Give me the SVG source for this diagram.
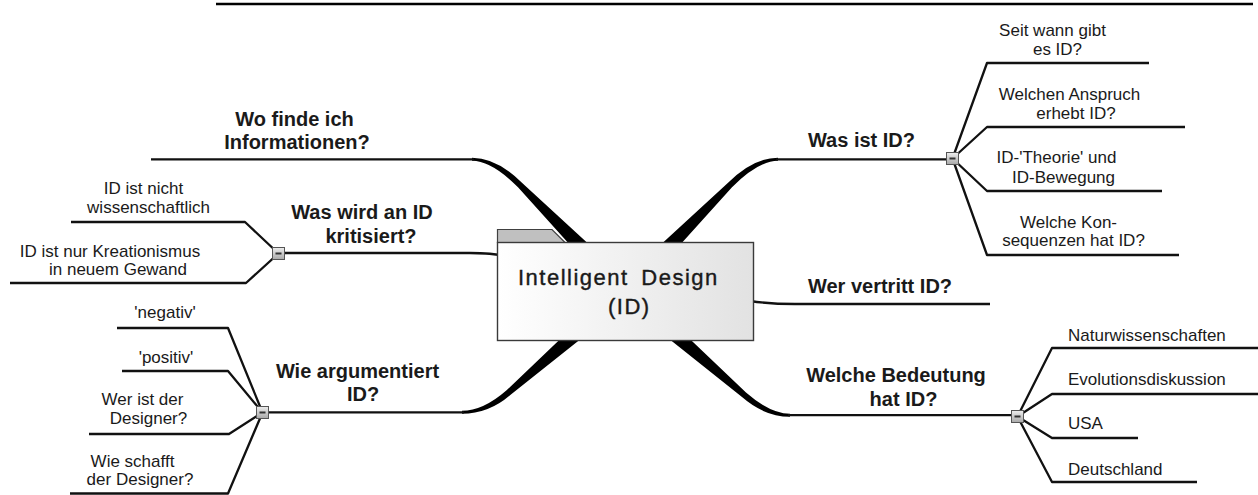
<svg xmlns="http://www.w3.org/2000/svg" width="1258" height="495" viewBox="0 0 1258 495">
<defs>
<linearGradient id="boxGrad" x1="0" y1="0" x2="1" y2="0">
<stop offset="0" stop-color="#ffffff"/><stop offset="1" stop-color="#e2e2e2"/>
</linearGradient>
<linearGradient id="btnGrad" x1="0" y1="0" x2="0" y2="1">
<stop offset="0" stop-color="#eeeeee"/><stop offset="1" stop-color="#a8a8a8"/>
</linearGradient>
<g id="collapse">
<rect x="-6" y="-6" width="12" height="12" fill="url(#btnGrad)" stroke="#555555" stroke-width="1"/>
<rect x="-3" y="-1" width="6" height="2" fill="#333333"/>
</g>
</defs>
<style>
.ln{fill:none;stroke:#111111;stroke-width:2.3;stroke-linejoin:round}
.band{fill:#000000}
.main{font-family:"Liberation Sans",Arial,sans-serif;font-weight:bold;font-size:20px;fill:#1a1a1a;text-anchor:middle}
.sub{font-family:"Liberation Sans",Arial,sans-serif;font-size:17px;fill:#1a1a1a;text-anchor:middle}
.subl{font-family:"Liberation Sans",Arial,sans-serif;font-size:17px;fill:#1a1a1a;text-anchor:start}
.center{font-family:"Liberation Sans",Arial,sans-serif;font-size:22px;fill:#1a1a1a;stroke:#1a1a1a;stroke-width:0.4;letter-spacing:1.5px;word-spacing:5px}
</style>
<rect width="1258" height="495" fill="#ffffff"/>
<line x1="216" y1="4" x2="1253" y2="4" stroke="#000000" stroke-width="2.6"/>

<g id="connectors">
<path class="band" d="M 632.1 284 L 522.2 183.1 Q 497.1 157.8 472 157.8 L 472 160.8 Q 491.7 160.8 518 187.3 L 617.9 298 Z"/>
<path class="band" d="M 617.9 284 L 727.8 183.1 Q 752.9 157.8 778 157.8 L 778 160.8 Q 758.3 160.8 732 187.3 L 632.1 298 Z"/>
<path class="band" d="M 618.4 283.5 L 506.3 390.5 Q 483 410.8 462 410.8 L 462 413.8 Q 488.9 413.8 510.3 395.1 L 631.6 298.5 Z"/>
<path class="band" d="M 631.6 283.5 L 746 392.5 Q 770.3 413.7 790 413.7 L 790 416.7 Q 764.5 416.7 742 397.1 L 618.4 298.5 Z"/>
<path class="ln" d="M 151 159.3 L 474 159.3"/>
<path class="ln" d="M 776 159.3 L 946.5 159.3"/>
<path class="ln" d="M 268.5 412.3 L 464 412.3"/>
<path class="ln" d="M 788 415.2 L 1011.5 415.2"/>
<path class="ln" d="M 505 256 Q 492 253 470 253 L 284.5 253"/>
<path class="ln" d="M 750 301 Q 770 304 795 304 L 990 304"/>
<path class="ln" d="M 278.5 253.5 L 245 222 L 71 222"/>
<path class="ln" d="M 278.5 253.5 L 246 283 L 10 283"/>
<path class="ln" d="M 262.5 412.5 L 228 328 L 117 328"/>
<path class="ln" d="M 262.5 412.5 L 228 371 L 122 371"/>
<path class="ln" d="M 262.5 412.5 L 229 434 L 89 434"/>
<path class="ln" d="M 262.5 412.5 L 228 493.5 L 70 493.5"/>
<path class="ln" d="M 952.5 158.5 L 987 63 L 1149 63"/>
<path class="ln" d="M 952.5 158.5 L 987 127 L 1185 127"/>
<path class="ln" d="M 952.5 158.5 L 987 191 L 1162 191"/>
<path class="ln" d="M 952.5 158.5 L 987 255 L 1179 255"/>
<path class="ln" d="M 1017.5 416.5 L 1052 348 L 1258 348"/>
<path class="ln" d="M 1017.5 416.5 L 1052 394 L 1258 394"/>
<path class="ln" d="M 1017.5 416.5 L 1052 438 L 1138 438"/>
<path class="ln" d="M 1017.5 416.5 L 1052 482 L 1197 482"/>
</g>

<g id="node-center">
<path d="M 497.5 242.5 L 497.5 229.5 L 552 229.5 L 565 242.5 Z" fill="#c0c0c0" stroke="#404040" stroke-width="1.2"/>
<rect x="497.5" y="242.5" width="256" height="98" fill="url(#boxGrad)" stroke="#3a3a3a" stroke-width="1.4"/>
<text class="center" x="518" y="285">Intelligent Design</text>
<text class="center" x="608" y="314">(ID)</text>
</g>

<g id="node-wo-finde">
<text class="main" x="294.5" y="126">Wo finde ich</text>
<text class="main" x="297" y="149">Informationen?</text>
</g>
<g id="node-was-wird">
<text class="main" x="362" y="219">Was wird an ID</text>
<text class="main" x="371" y="243">kritisiert?</text>
<use href="#collapse" transform="translate(278.5,253.5)"/>
</g>
<g id="node-nicht-wiss">
<text class="sub" x="143.5" y="194">ID ist nicht</text>
<text class="sub" x="148.5" y="213">wissenschaftlich</text>
</g>
<g id="node-kreationismus">
<text class="sub" x="110" y="257">ID ist nur Kreationismus</text>
<text class="sub" x="118" y="275">in neuem Gewand</text>
</g>
<g id="node-wie-arg">
<text class="main" x="357.5" y="378">Wie argumentiert</text>
<text class="main" x="363" y="401">ID?</text>
<use href="#collapse" transform="translate(262.5,412.5)"/>
</g>
<g id="node-negativ">
<text class="sub" x="165" y="318">'negativ'</text>
</g>
<g id="node-positiv">
<text class="sub" x="166" y="363">'positiv'</text>
</g>
<g id="node-wer-designer">
<text class="sub" x="142.5" y="405">Wer ist der</text>
<text class="sub" x="148.5" y="424">Designer?</text>
</g>
<g id="node-wie-schafft">
<text class="sub" x="132.5" y="467">Wie schafft</text>
<text class="sub" x="140" y="485">der Designer?</text>
</g>
<g id="node-was-ist">
<text class="main" x="861.5" y="147">Was ist ID?</text>
<use href="#collapse" transform="translate(952.5,158.5)"/>
</g>
<g id="node-seit-wann">
<text class="sub" x="1052.5" y="36">Seit wann gibt</text>
<text class="sub" x="1057.5" y="55">es ID?</text>
</g>
<g id="node-anspruch">
<text class="sub" x="1069.5" y="100">Welchen Anspruch</text>
<text class="sub" x="1076" y="119">erhebt ID?</text>
</g>
<g id="node-theorie">
<text class="sub" x="1056.5" y="163">ID-'Theorie' und</text>
<text class="sub" x="1063.5" y="183">ID-Bewegung</text>
</g>
<g id="node-konsequenzen">
<text class="sub" x="1068.5" y="228">Welche Kon-</text>
<text class="sub" x="1073.5" y="246">sequenzen hat ID?</text>
</g>
<g id="node-wer-vertritt">
<text class="main" x="880" y="293">Wer vertritt ID?</text>
</g>
<g id="node-bedeutung">
<text class="main" x="896" y="382">Welche Bedeutung</text>
<text class="main" x="903.5" y="406">hat ID?</text>
<use href="#collapse" transform="translate(1017.5,416.5)"/>
</g>
<g id="node-natur">
<text class="subl" x="1068" y="341">Naturwissenschaften</text>
</g>
<g id="node-evolution">
<text class="subl" x="1068" y="385">Evolutionsdiskussion</text>
</g>
<g id="node-usa">
<text class="subl" x="1068" y="429">USA</text>
</g>
<g id="node-deutschland">
<text class="subl" x="1068" y="475">Deutschland</text>
</g>
</svg>
